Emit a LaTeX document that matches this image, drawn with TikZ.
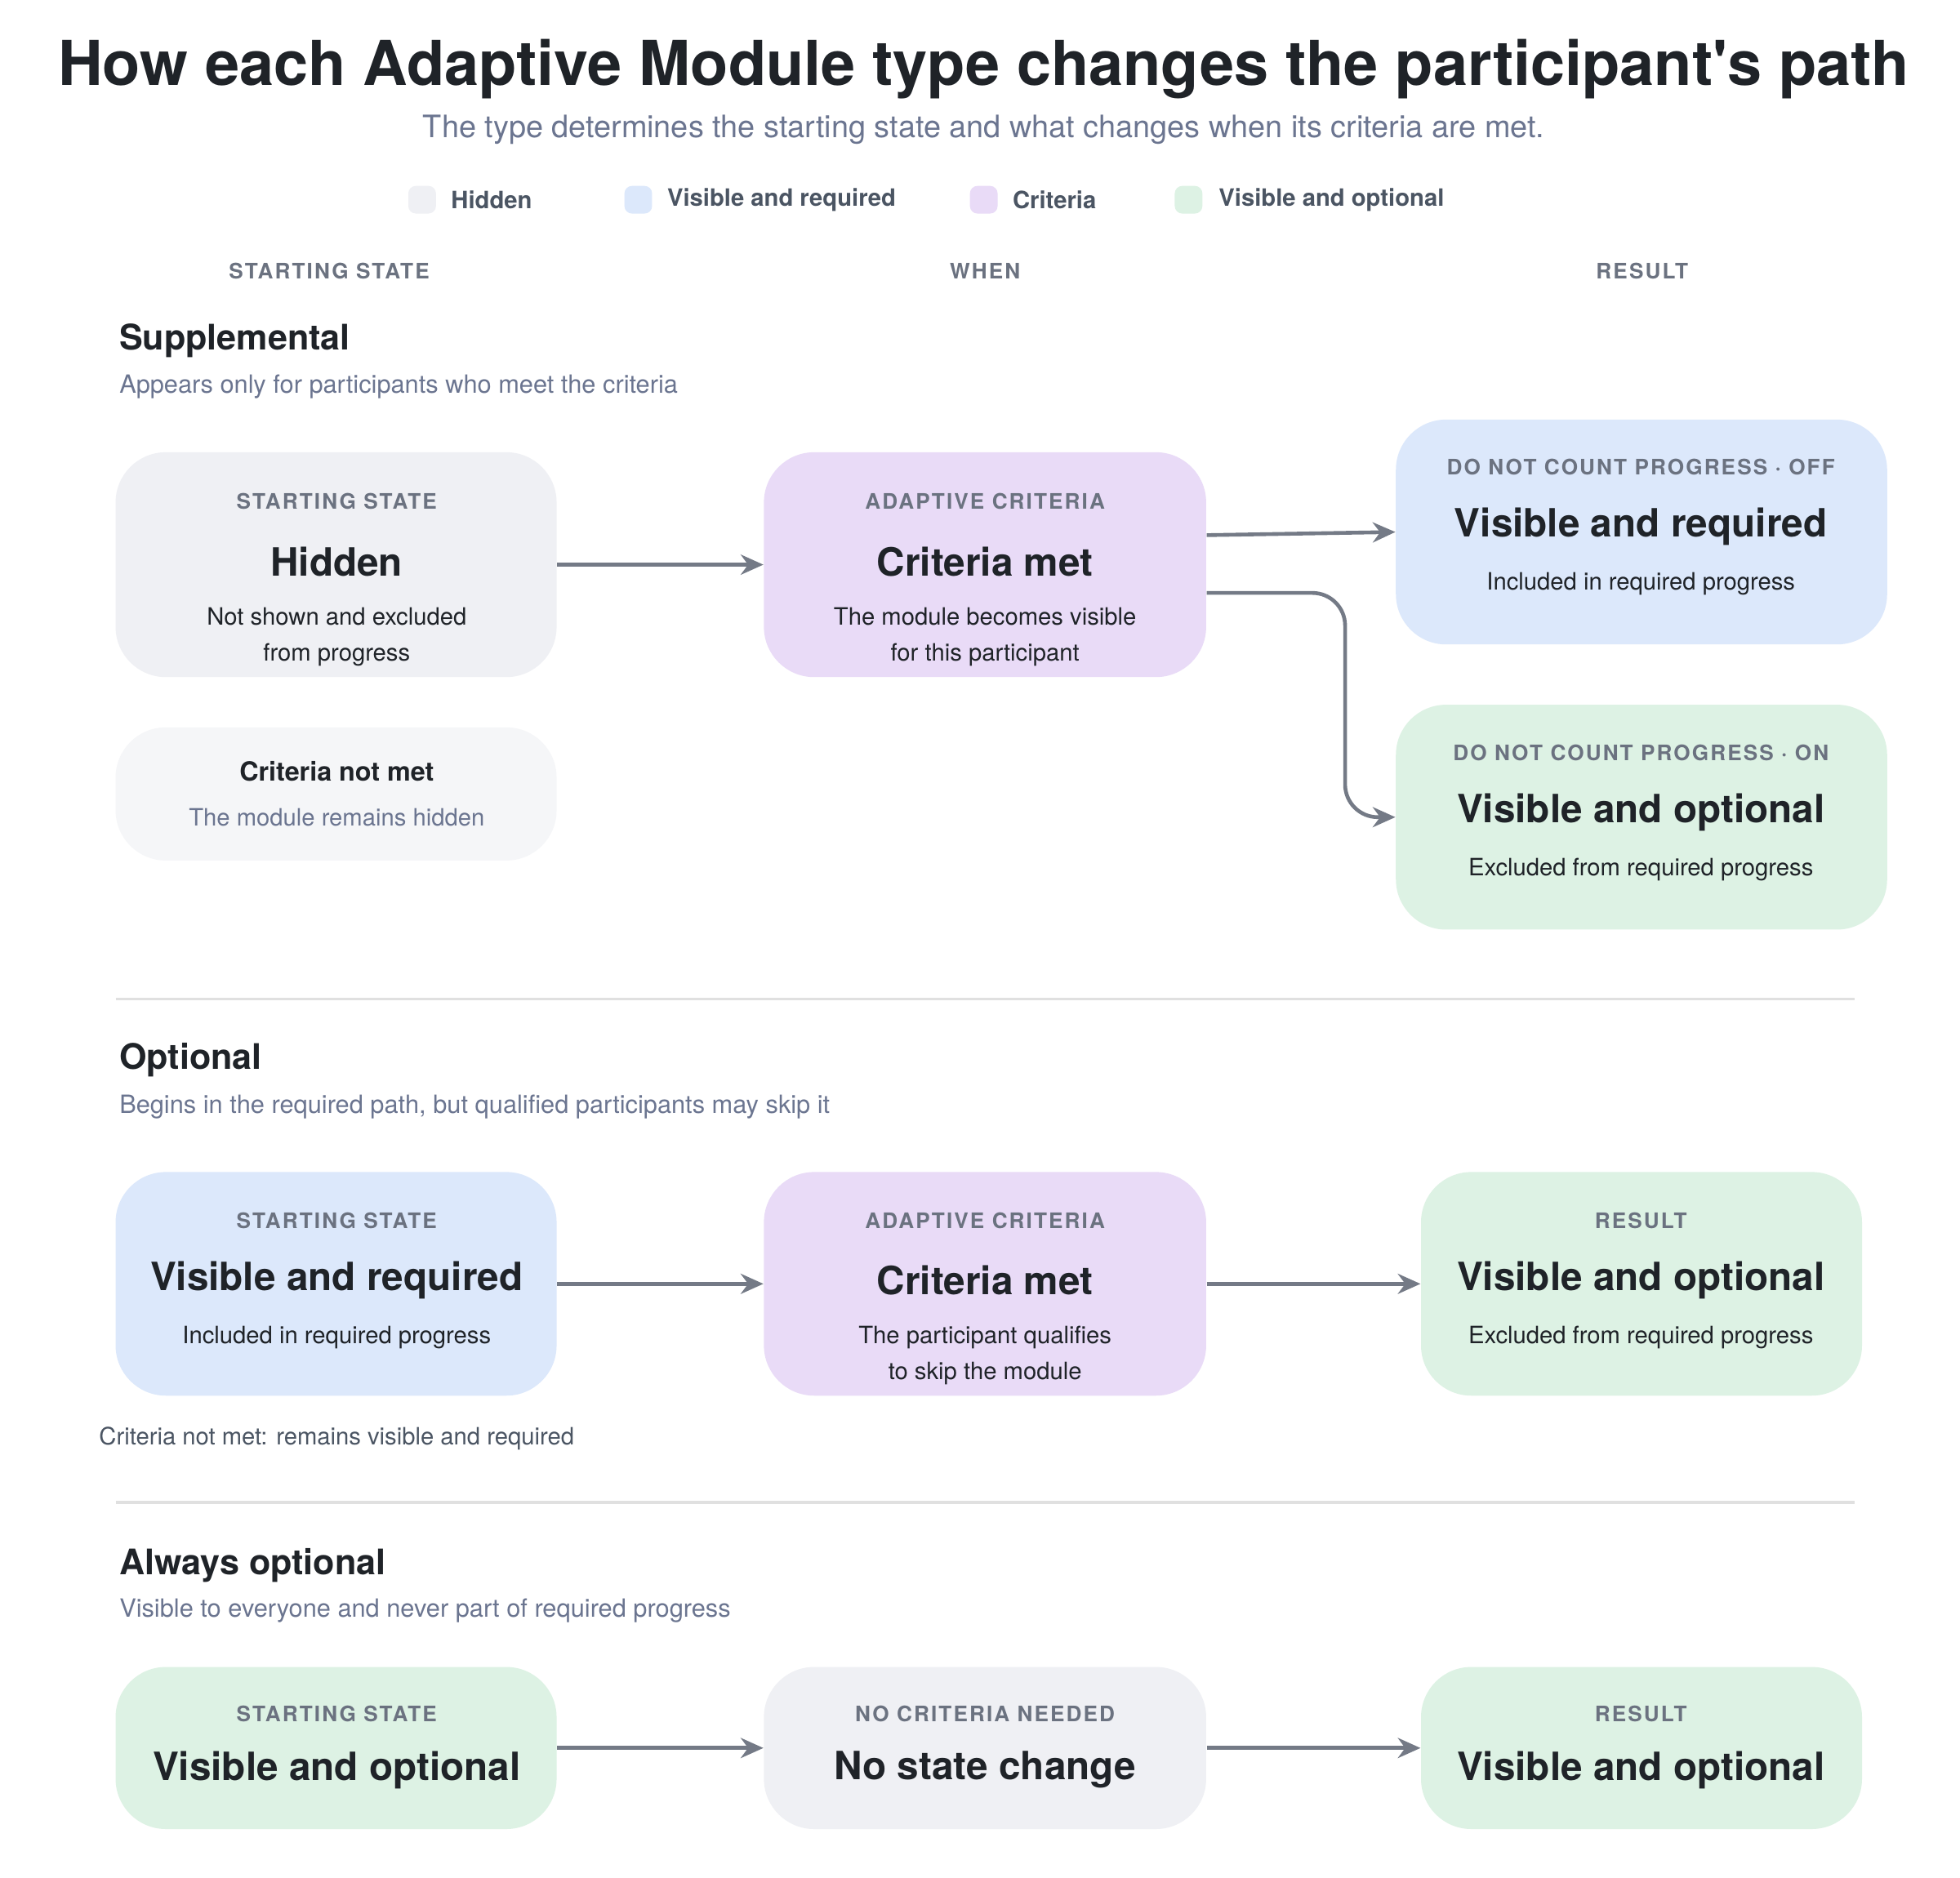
\documentclass[tikz,border=0pt]{standalone}
\usepackage{fontspec}
\setmainfont{TeX Gyre Heros}
\newfontfamily\spaced{TeX Gyre Heros}[LetterSpace=8]
\usetikzlibrary{arrows.meta}
\definecolor{ink}{HTML}{1F2328}
\definecolor{slate}{HTML}{6B7590}
\definecolor{lab}{HTML}{6B7280}
\definecolor{leg}{HTML}{4B5563}
\definecolor{fhid}{HTML}{EFF0F4}
\definecolor{fnot}{HTML}{F5F6F8}
\definecolor{fblue}{HTML}{DCE8FB}
\definecolor{fpur}{HTML}{E9DBF7}
\definecolor{fgreen}{HTML}{DDF2E4}
\definecolor{arr}{HTML}{747A86}
\definecolor{sep}{HTML}{E0E0E0}
\tikzset{
  box/.style={rounded corners=20pt, inner sep=0pt, draw=none},
  blab/.style={font=\spaced\bfseries\fontsize{8.5}{10}\selectfont, text=lab},
  btitle/.style={font=\bfseries\fontsize{15.5}{18}\selectfont, text=ink},
  bdesc/.style={font=\fontsize{9.5}{14.5}\selectfont, text=ink, align=center},
  colh/.style={font=\spaced\bfseries\fontsize{8.5}{10}\selectfont, text=lab},
  sechead/.style={font=\bfseries\fontsize{14}{17}\selectfont, text=ink, anchor=west},
  secsub/.style={font=\fontsize{10}{12}\selectfont, text=slate, anchor=west},
  legt/.style={font=\bfseries\fontsize{9.5}{11}\selectfont, text=leg, anchor=west},
  legsq/.style={rounded corners=3pt, minimum size=11pt, inner sep=0pt},
  conn/.style={draw=arr, line width=1.5pt, -{Stealth[length=9pt,width=8pt]}},
}
\newcommand{\mkbox}[6]{\node[box,fill=#6,minimum width={(#4-#2)*0.5pt},minimum height={(#5-#3)*0.5pt}] (#1) at ({(#2+#4)/2},{(#3+#5)/2}) {};}
\begin{document}
\begin{tikzpicture}[x=0.5pt,y=-0.5pt]
\useasboundingbox[fill=white] (0,0) rectangle (1560,1495);
% title
\node[font=\bfseries\fontsize{24.6}{28}\selectfont,text=ink] (title) at (783,55) {How each Adaptive Module type changes the participant\textquotesingle s path};
\node[font=\fontsize{12.3}{14}\selectfont,text=slate] (subtitle) at (783,103) {The type determines the starting state and what changes when its criteria are met.};
% legend
\node[legsq,fill=fhid] (l1) at (336,159) {}; \node[legt] (l1t) at (352,159) {Hidden};
\node[legsq,fill=fblue] (l2) at (508,159) {}; \node[legt] (l2t) at (524,159) {Visible and required};
\node[legsq,fill=fpur] (l3) at (783,159) {}; \node[legt] (l3t) at (799,159) {Criteria};
\node[legsq,fill=fgreen] (l4) at (946,159) {}; \node[legt] (l4t) at (963,159) {Visible and optional};
% column headers
\node[colh] (c1) at (262,216) {STARTING STATE};
\node[colh] (c2) at (784,216) {WHEN};
\node[colh] (c3) at (1307,216) {RESULT};
% Supplemental
\node[sechead] (s1) at (88,271) {Supplemental};
\node[secsub] (s1s) at (88,308) {Appears only for participants who meet the criteria};
\mkbox{hid}{92}{360}{443}{539}{fhid}
\mkbox{crit1}{608}{360}{960}{539}{fpur}
\mkbox{r1}{1111}{334}{1502}{513}{fblue}
\mkbox{r2}{1111}{561}{1502}{740}{fgreen}
\node[box,fill=fnot,minimum width=175.5pt,minimum height=53pt] (notmet) at (267.5,632) {};
\node[blab] at (268,399) {STARTING STATE};
\node[btitle] at (268,447) {Hidden};
\node[bdesc] at (268,507) {Not shown and excluded\\from progress};
\node[blab] at (784,399) {ADAPTIVE CRITERIA};
\node[btitle] at (784,447) {Criteria met};
\node[bdesc] at (784,507) {The module becomes visible\\for this participant};
\node[blab] at (1306,372) {DO NOT COUNT PROGRESS · OFF};
\node[btitle] at (1306,419) {Visible and required};
\node[bdesc] at (1306,465) {Included in required progress};
\node[blab] at (1306,599) {DO NOT COUNT PROGRESS · ON};
\node[btitle] at (1306,647) {Visible and optional};
\node[bdesc] at (1306,692) {Excluded from required progress};
\node[font=\bfseries\fontsize{10.5}{12}\selectfont,text=ink] at (268,614) {Criteria not met};
\node[font=\fontsize{9.5}{11}\selectfont,text=slate] at (268,651) {The module remains hidden};
\draw[conn] (hid.east) -- (crit1.west);
\draw[conn] ([yshift=11.75pt]crit1.east) -- (r1.west);
\draw[conn,rounded corners=13pt] ([yshift=-11.25pt]crit1.east) -| ([xshift=-20pt]r2.west) -- (r2.west);
\draw[sep,line width=1pt] (92,795) coordinate (sa) -- (1476,795) coordinate (sb);
% Optional
\node[sechead] (s2) at (88,844) {Optional};
\node[secsub] (s2s) at (88,881) {Begins in the required path, but qualified participants may skip it};
\mkbox{o1}{92}{933}{443}{1111}{fblue}
\mkbox{o2}{608}{933}{960}{1111}{fpur}
\mkbox{o3}{1131}{933}{1482}{1111}{fgreen}
\node[blab] at (268,972) {STARTING STATE};
\node[btitle] at (268,1019) {Visible and required};
\node[bdesc] at (268,1065) {Included in required progress};
\node[blab] at (784,972) {ADAPTIVE CRITERIA};
\node[btitle] at (784,1019) {Criteria met};
\node[bdesc] at (784,1079) {The participant qualifies\\to skip the module};
\node[blab] at (1306,972) {RESULT};
\node[btitle] at (1306,1019) {Visible and optional};
\node[bdesc] at (1306,1065) {Excluded from required progress};
\node[font=\fontsize{9.5}{11}\selectfont,text=leg] (onm) at (268,1145) {Criteria not met: remains visible and required};
\draw[conn] (o1.east) -- (o2.west);
\draw[conn] (o2.east) -- (o3.west);
\draw[sep,line width=1pt] (92,1196) coordinate (sc) -- (1476,1196) coordinate (sd);
% Always optional
\node[sechead] (s3) at (88,1246) {Always optional};
\node[secsub] (s3s) at (88,1282) {Visible to everyone and never part of required progress};
\mkbox{a1}{92}{1327}{443}{1456}{fgreen}
\mkbox{a2}{608}{1327}{960}{1456}{fhid}
\mkbox{a3}{1131}{1327}{1482}{1456}{fgreen}
\node[blab] at (268,1364) {STARTING STATE};
\node[btitle] at (268,1409) {Visible and optional};
\node[blab] at (784,1364) {NO CRITERIA NEEDED};
\node[btitle] at (784,1409) {No state change};
\node[blab] at (1306,1364) {RESULT};
\node[btitle] at (1306,1409) {Visible and optional};
\draw[conn] (a1.east) -- (a2.west);
\draw[conn] (a2.east) -- (a3.west);
\end{tikzpicture}
\end{document}
